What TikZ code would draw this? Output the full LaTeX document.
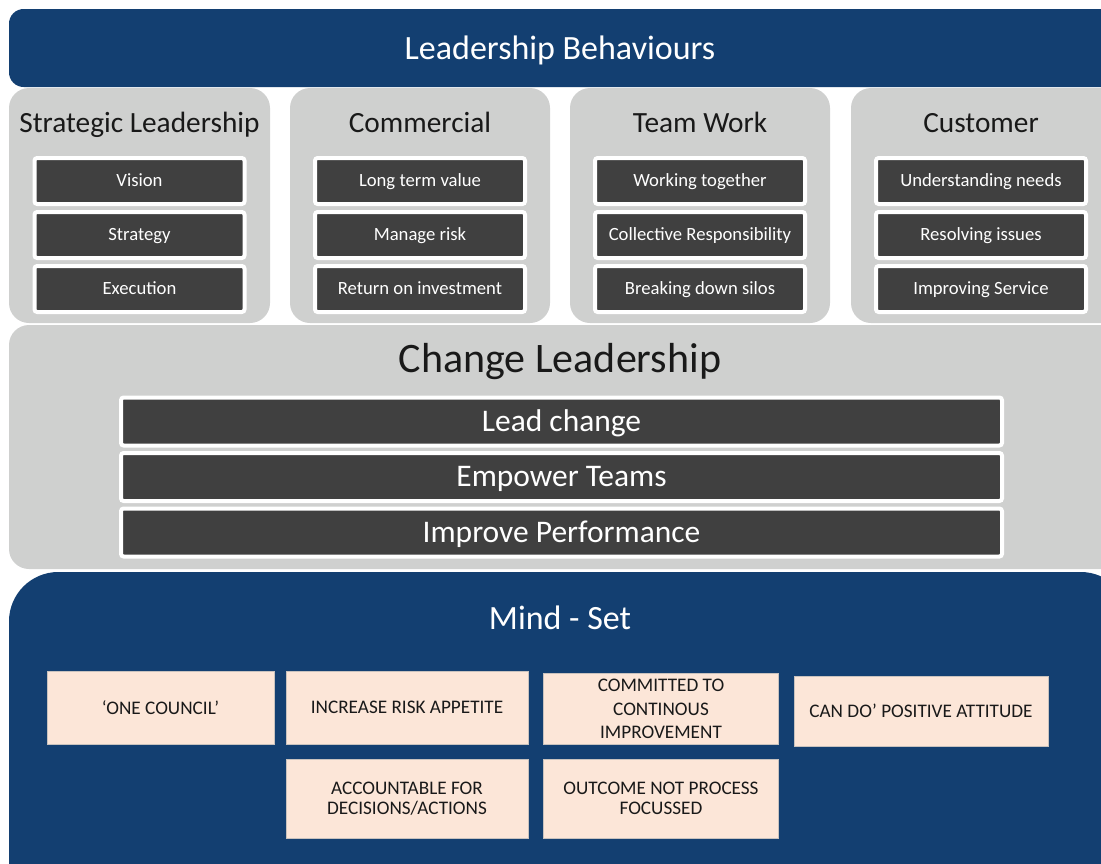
\documentclass[tikz,border=0pt]{standalone}
\usepackage{fontspec}
\setmainfont{Carlito}
\definecolor{navy}{HTML}{133F71}
\definecolor{panelgray}{HTML}{CFD0CF}
\definecolor{darkbox}{HTML}{404040}
\definecolor{peach}{HTML}{FCE6D8}
\definecolor{peachedge}{HTML}{C8C2BE}
\begin{document}
\begin{tikzpicture}[x=0.75pt,y=-0.75pt,
  sz/.style 2 args={minimum width=#1*0.75pt, minimum height=#2*0.75pt, inner sep=0pt},
  darkitem/.style={fill=darkbox, draw=white, line width=3pt, rounded corners=2pt, text=white,
     font=\fontsize{14}{17}\selectfont, sz={210}{46}, text height=10.5pt, text depth=3pt},
  bar/.style={fill=darkbox, draw=white, line width=3pt, rounded corners=2pt, text=white,
     font=\fontsize{23.6}{28}\selectfont, sz={881}{48}, text height=17.7pt, text depth=2.8pt},
  heading/.style={text=black!90, font=\fontsize{22}{26}\selectfont, text height=16pt, text depth=4.5pt},
  mindbox/.style={fill=peach, draw=peachedge, line width=0.5pt, text=black!90, align=center,
     font=\fontsize{14.4}{15}\selectfont},
]
\useasboundingbox (0,0) rectangle (1101,864);
\clip (0,0) rectangle (1101,864);
% banner
\fill[navy, rounded corners=11pt] (9,9) rectangle (1130,87);
\node[text=white, font=\fontsize{25.5}{30}\selectfont] (title) at (560,50) {Leadership Behaviours};
% top panels
\fill[panelgray, rounded corners=15pt] (9,88) rectangle (270,323);
\fill[panelgray, rounded corners=15pt] (290,88) rectangle (550,323);
\fill[panelgray, rounded corners=15pt] (570,88) rectangle (830,323);
\fill[panelgray, rounded corners=15pt] (851,88) rectangle (1130,323);
\node[heading] (h1) at (139.5,125) {Strategic Leadership};
\node[heading] (h2) at (420,125) {Commercial};
\node[heading] (h3) at (700,125) {Team Work};
\node[heading] (h4) at (981,125) {Customer};
\node[darkitem] (a1) at (139.5,181) {Vision};
\node[darkitem] (a2) at (139.5,235) {Strategy};
\node[darkitem] (a3) at (139.5,289) {Execution};
\node[darkitem] (b1) at (420,181) {Long term value};
\node[darkitem] (b2) at (420,235) {Manage risk};
\node[darkitem] (b3) at (420,289) {Return on investment};
\node[darkitem] (c1) at (700,181) {Working together};
\node[darkitem] (c2) at (700,235) {Collective Responsibility};
\node[darkitem] (c3) at (700,289) {Breaking down silos};
\node[darkitem] (d1) at (981,181) {Understanding needs};
\node[darkitem] (d2) at (981,235) {Resolving issues};
\node[darkitem] (d3) at (981,289) {Improving Service};
% change leadership
\fill[panelgray, rounded corners=15pt] (9,325) rectangle (1130,569);
\node[text=black!90, font=\fontsize{31.5}{36}\selectfont] (ch) at (560,362) {Change Leadership};
\node[bar] (l1) at (561.5,421.5) {Lead change};
\node[bar] (l2) at (561.5,477) {Empower Teams};
\node[bar] (l3) at (561.5,532.5) {Improve Performance};
% mind-set
\fill[navy, rounded corners=37pt] (9,572) rectangle (1130,930);
\node[text=white, font=\fontsize{25.5}{30}\selectfont] (ms) at (560,618) {Mind - Set};
\node[mindbox, sz={227}{73}] (m1) at (160.5,707.5) {‘ONE COUNCIL’};
\node[mindbox, sz={242}{73}] (m2) at (407,707.5) {INCREASE RISK APPETITE};
\node[mindbox, sz={235}{71}, font=\fontsize{14.4}{17.5}\selectfont] (m3) at (661,709) {COMMITTED TO\\CONTINOUS\\IMPROVEMENT};
\node[mindbox, sz={254}{70}] (m4) at (921,711) {CAN DO’ POSITIVE ATTITUDE};
\node[mindbox, sz={242}{79}] (m5) at (407,798.5) {ACCOUNTABLE FOR\\DECISIONS/ACTIONS};
\node[mindbox, sz={235}{79}] (m6) at (661,798.5) {OUTCOME NOT PROCESS\\FOCUSSED};
\end{tikzpicture}
\end{document}
